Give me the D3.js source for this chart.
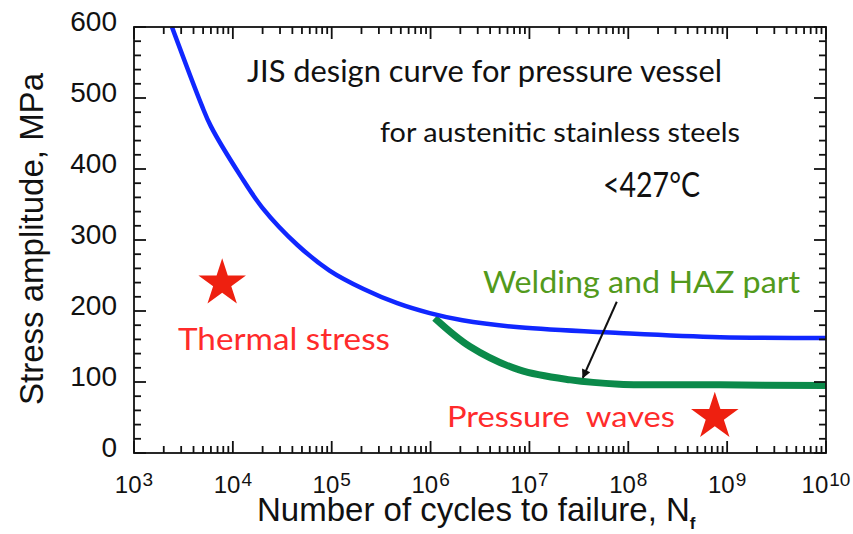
<!DOCTYPE html>
<html>
<head>
<meta charset="utf-8">
<script src="https://cdn.jsdelivr.net/npm/d3@7"></script>
<style>
body { margin: 0; background: #fff; }
</style>
</head>
<body>
<script>
// JIS design curve (blue)
var jisCycles = [2.42e3, 4.8e3, 6.0e3, 1.2e4, 2.0e4, 4.5e4, 9.5e4, 2.1e5, 4.6e5, 9.8e5, 2.1e6, 7.9e6, 8.1e7, 8.5e8, 1e10];
var jisStress = [600, 491, 460, 390, 345, 293, 257, 231, 211, 197, 187, 177, 169, 163, 162];

// welding and HAZ part (green)
var hazCycles = [1.1e6, 2.5e6, 7.9e6, 2.6e7, 8.1e7, 8.5e8, 1e10];
var hazStress = [190, 150, 117, 103, 97, 96, 95];

// stars: thermal stress, pressure waves
var starCycles = [7.8e3, 7.5e8];
var starStress = [239, 51];

// arrow pointing at the welding curve
var arrowCycles = [7.65e7, 3.47e7];
var arrowStress = [213, 106];

var xMajor = [1e3, 1e4, 1e5, 1e6, 1e7, 1e8, 1e9, 1e10];
var xExp = ["3", "4", "5", "6", "7", "8", "9", "10"];
var yMajor = [0, 100, 200, 300, 400, 500, 600];

var margin = {top: 27, left: 134},
    width = 692, height = 426;

var x = d3.scaleLog().domain([1e3, 1e10]).range([0, width]);
var y = d3.scaleLinear().domain([0, 600]).range([height, 0]);

var svg = d3.select('body').append('svg')
  .attr('width', 853).attr('height', 534);

var main = svg.append('g')
  .attr('transform', 'translate(' + margin.left + ',' + margin.top + ')');

// minor tick values
var xMinor = [];
xMajor.slice(0, -1).forEach(function (d) {
  for (var k = 2; k <= 9; k++) xMinor.push(d * k);
});
var yMinor = d3.range(20, 600, 20).filter(function (d) { return d % 100 != 0; });

// tick labels
main.selectAll('.ylab').data(yMajor).enter().append('text')
  .attr('x', -17).attr('y', function (d) { return y(d) + 4; })
  .attr('text-anchor', 'end')
  .style('font-family', 'Liberation Sans, Arial, sans-serif')
  .style('font-size', '28px').attr('fill', '#111')
  .text(function (d) { return d; });

var xl = main.selectAll('.xlab').data(xMajor).enter().append('text')
  .attr('x', function (d) { return x(d); }).attr('y', height + 40)
  .attr('text-anchor', 'middle')
  .style('font-family', 'Liberation Sans, Arial, sans-serif')
  .style('font-size', '24px').attr('fill', '#111');
xl.append('tspan').text('10');
xl.append('tspan').attr('dy', -7).attr('dx', 1).style('font-size', '19px')
  .text(function (d, i) { return xExp[i]; });

// axis titles
svg.append('text')
  .attr('transform', 'translate(43,239) rotate(-90)')
  .attr('text-anchor', 'middle')
  .style('font-family', 'Liberation Sans, Arial, sans-serif')
  .style('font-size', '33px').attr('fill', '#111')
  .text('Stress amplitude, MPa');

var xt = svg.append('text')
  .attr('x', 257).attr('y', 521)
  .style('font-family', 'Liberation Sans, Arial, sans-serif')
  .style('font-size', '33px').attr('fill', '#111');
xt.append('tspan').text('Number of cycles to failure, N');
xt.append('tspan').attr('dy', 8).style('font-size', '17px').style('font-weight', 'bold').text('f');

// curves
var clip = svg.append('defs').append('clipPath').attr('id', 'plot');
clip.append('rect').attr('width', width).attr('height', height);

var line = d3.line()
  .x(function (d) { return x(d[0]); })
  .y(function (d) { return y(d[1]); })
  .curve(d3.curveCatmullRom.alpha(0.5));

main.append('path')
  .datum(d3.zip(hazCycles, hazStress))
  .attr('d', line)
  .attr('fill', 'none').attr('stroke', '#0b8a4a').attr('stroke-width', 7)
  .attr('clip-path', 'url(#plot)');

main.append('path')
  .datum(d3.zip(jisCycles, jisStress))
  .attr('d', line)
  .attr('fill', 'none').attr('stroke', '#1027ff').attr('stroke-width', 4.5)
  .attr('clip-path', 'url(#plot)');

// arrow
svg.append('defs').append('marker')
  .attr('id', 'head').attr('viewBox', '0 0 10 10')
  .attr('refX', 9).attr('refY', 5)
  .attr('markerWidth', 14).attr('markerHeight', 9)
  .attr('markerUnits', 'userSpaceOnUse')
  .attr('orient', 'auto')
  .append('path').attr('d', 'M0,0 L10,5 L0,10 Z').attr('fill', '#111');

main.append('line')
  .attr('x1', x(arrowCycles[0])).attr('y1', y(arrowStress[0]))
  .attr('x2', x(arrowCycles[1])).attr('y2', y(arrowStress[1]))
  .attr('stroke', '#111').attr('stroke-width', 2)
  .attr('marker-end', 'url(#head)');

// stars
var star = d3.symbol().type(d3.symbolStar).size(25 * 25 / 0.8908130915292852);
main.selectAll('.star').data(d3.zip(starCycles, starStress)).enter().append('path')
  .attr('d', star)
  .attr('transform', function (d) { return 'translate(' + x(d[0]) + ',' + y(d[1]) + ')'; })
  .attr('fill', '#ee2010');

// annotations
var notes = [
  {t: 'JIS design curve for pressure vessel', x: 247, y: 82, s: 31, w: 475, c: '#111'},
  {t: 'for austenitic stainless steels', x: 380, y: 142, s: 26, w: 360, c: '#111'},
  {t: '<427°C', x: 603, y: 197, s: 34, w: 97, c: '#111'},
  {t: 'Thermal stress', x: 178, y: 350, s: 30, w: 212, c: '#ff2b2b'},
  {t: 'Welding and HAZ part', x: 483, y: 293, s: 30, w: 317, c: '#529a1c'},
  {t: 'Pressure  waves', x: 447, y: 427, s: 28, w: 228, c: '#ff2b2b'}
];
svg.selectAll('.note').data(notes).enter().append('text')
  .attr('x', function (d) { return d.x; })
  .attr('y', function (d) { return d.y; })
  .attr('textLength', function (d) { return d.w; })
  .attr('lengthAdjust', 'spacingAndGlyphs')
  .style('white-space', 'pre')
  .style('font-family', 'Lato, "Open Sans", sans-serif')
  .style('font-size', function (d) { return d.s + 'px'; })
  .attr('fill', function (d) { return d.c; })
  .text(function (d) { return d.t; });

// frame
svg.append('rect')
  .attr('x', margin.left).attr('y', margin.top)
  .attr('width', width).attr('height', height)
  .attr('fill', 'none').attr('stroke', '#111').attr('stroke-width', 1.8);

// inward ticks on all four sides, one line each, in page coordinates
var tickSegs = [];
xMajor.forEach(function (d) { tickSegs.push(['x', d, 12]); });
xMinor.forEach(function (d) { tickSegs.push(['x', d, 7]); });
yMajor.forEach(function (d) { tickSegs.push(['y', d, 12]); });
yMinor.forEach(function (d) { tickSegs.push(['y', d, 7]); });

var segs = [];
tickSegs.forEach(function (t) {
  if (t[0] == 'x') {
    var px = margin.left + x(t[1]);
    segs.push([px, margin.top + height, px, margin.top + height - t[2]]);
    segs.push([px, margin.top, px, margin.top + t[2]]);
  } else {
    var py = margin.top + y(t[1]);
    segs.push([margin.left, py, margin.left + t[2], py]);
    segs.push([margin.left + width, py, margin.left + width - t[2], py]);
  }
});

svg.selectAll('.tk').data(segs).enter().append('line')
  .attr('x1', function (d) { return d[0]; })
  .attr('y1', function (d) { return d[1]; })
  .attr('x2', function (d) { return d[2]; })
  .attr('y2', function (d) { return d[3]; })
  .style('stroke', '#111')
  .style('stroke-width', '1.8px');
</script>
</body>
</html>
